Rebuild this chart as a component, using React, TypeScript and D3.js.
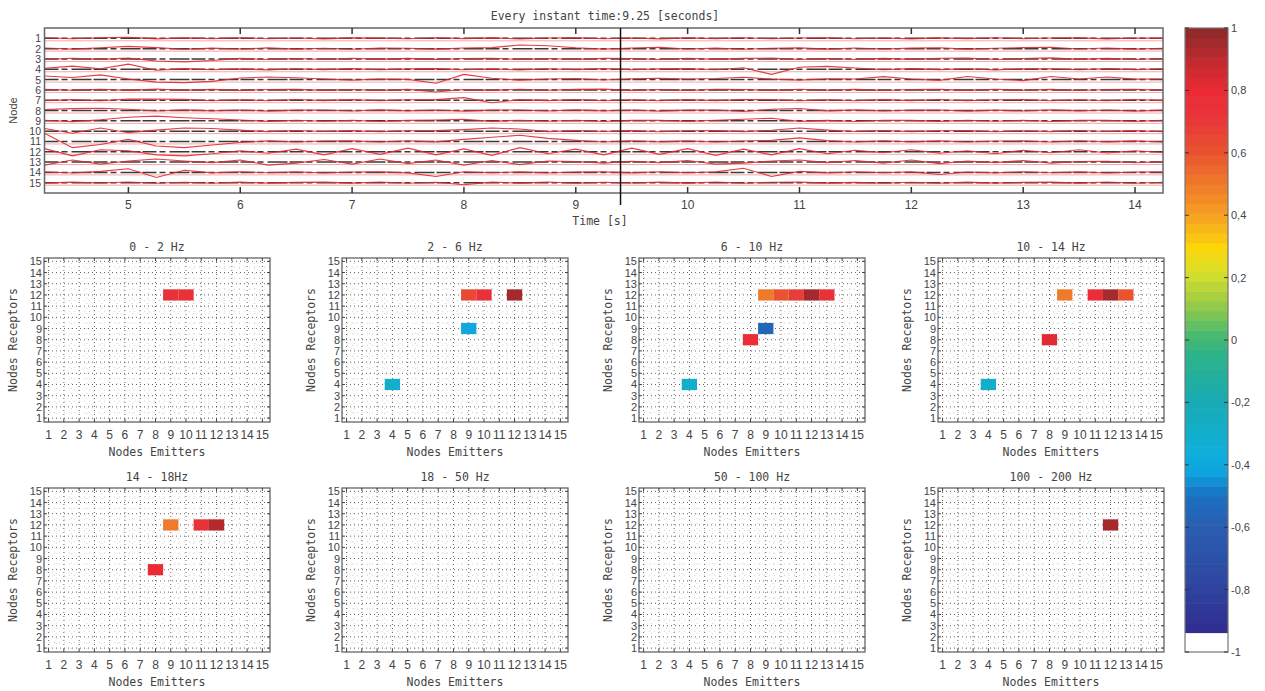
import React from "react";
import * as d3 from "d3";

// ---- data ----
const nodeIds = [1, 2, 3, 4, 5, 6, 7, 8, 9, 10, 11, 12, 13, 14, 15];
const timeTicks = [5, 6, 7, 8, 9, 10, 11, 12, 13, 14];
const cursorTime = 9.4;
const sampleTimes = [
  4.25, 4.5, 4.75, 5, 5.25, 5.5, 5.75, 6, 6.25, 6.5, 6.75, 7, 7.25, 7.5, 7.75, 8, 8.25, 8.5, 8.75, 9, 9.25,
  9.5, 9.75, 10, 10.25, 10.5, 10.75, 11, 11.25, 11.5, 11.75, 12, 12.25, 12.5, 12.75, 13, 13.25, 13.5, 13.75, 14, 14.25,
];

// offsets from each node's baseline, in node units (positive = up)
const trace1 = [0.05, -0.04, 0.06, 0.1, -0.05, 0.04, -0.03, 0.05, -0.04, 0.03, -0.05, 0.04, 0.02, -0.04, 0.05, -0.03, 0.04, -0.05, 0.03, 0.06, -0.04, 0.03, -0.05, 0.04, -0.03, 0.05, -0.04, 0.03, 0.05, -0.04, 0.03, -0.05, 0.04, -0.03, 0.05, -0.04, 0.03, 0.04, -0.05, 0.03, 0.02];
const trace2 = [0.06, -0.05, 0.08, 0.22, 0.1, -0.06, 0.05, -0.04, 0.07, -0.05, 0.04, -0.06, 0.05, 0.03, -0.05, 0.06, 0.1, 0.35, 0.28, 0.08, -0.05, 0.06, 0.12, -0.04, 0.05, -0.06, 0.04, 0.07, -0.05, 0.06, -0.04, 0.05, 0.08, -0.05, 0.04, 0.1, 0.14, -0.04, 0.06, -0.05, 0.04];
const trace3 = [-0.05, 0.06, -0.04, 0.08, -0.2, -0.28, -0.15, 0.05, -0.06, 0.04, -0.05, 0.06, -0.04, 0.05, -0.06, 0.04, 0.07, -0.05, 0.04, -0.06, 0.05, 0.04, -0.05, 0.06, -0.04, 0.05, 0.08, -0.05, 0.04, -0.06, 0.05, -0.04, 0.06, 0.09, -0.05, 0.04, 0.1, -0.04, 0.05, -0.06, 0.04];
const trace4 = [0.1, 0.3, 0.05, 0.5, -0.1, 0.06, -0.05, 0.04, -0.06, 0.05, -0.04, 0.06, -0.05, 0.04, 0.06, -0.05, 0.04, -0.06, 0.05, -0.04, 0.06, -0.05, 0.04, 0.06, -0.05, 0.15, -0.5, 0.2, 0.28, 0.12, -0.05, 0.06, -0.04, 0.05, -0.06, 0.04, 0.05, -0.05, 0.06, -0.04, 0.05];
const trace5 = [0.35, 0.2, 0.45, 0.05, -0.25, -0.3, -0.18, 0.15, 0.25, 0.18, 0.05, -0.05, 0.06, 0.02, -0.35, 0.5, 0.12, -0.05, 0.06, 0.1, -0.04, 0.08, 0.12, 0.05, 0.1, 0.22, 0.05, -0.05, 0.08, 0.06, 0.28, 0.05, -0.08, 0.3, 0.05, -0.1, 0.3, 0.05, 0.25, 0.04, 0.06];
const trace6 = [0.05, -0.04, 0.06, -0.05, 0.08, -0.04, 0.05, -0.06, 0.04, 0.05, -0.05, 0.04, -0.06, 0.05, -0.2, 0.04, -0.05, 0.06, -0.04, 0.05, 0.07, -0.05, 0.04, -0.06, 0.05, 0.04, -0.05, 0.06, -0.04, 0.05, -0.06, 0.04, 0.05, -0.05, 0.06, -0.04, 0.05, -0.06, 0.04, 0.05, -0.04];
const trace7 = [-0.04, 0.05, -0.06, 0.1, 0.12, 0.08, -0.05, 0.04, -0.05, 0.06, -0.04, 0.05, -0.06, 0.04, 0.05, 0.25, -0.25, 0.05, -0.04, 0.06, -0.05, 0.04, -0.06, 0.05, -0.04, 0.06, 0.05, -0.05, 0.04, -0.06, 0.05, -0.04, 0.06, -0.05, 0.04, 0.05, -0.06, 0.04, -0.05, 0.06, -0.04];
const trace8 = [0.1, 0.18, 0.22, 0.12, -0.05, 0.06, -0.04, 0.05, -0.06, 0.04, 0.05, -0.05, 0.06, -0.04, 0.05, -0.06, 0.04, 0.05, -0.05, 0.06, -0.04, 0.05, -0.06, 0.04, 0.05, -0.1, 0.12, 0.2, -0.04, 0.06, -0.05, 0.04, 0.05, -0.06, 0.04, -0.05, 0.06, -0.04, 0.05, -0.06, 0.04];
const trace9 = [0.05, -0.08, 0.1, 0.35, 0.45, 0.3, 0.2, 0.08, -0.05, 0.06, -0.04, 0.05, -0.06, 0.04, 0.08, 0.15, -0.05, 0.06, -0.04, 0.05, -0.06, 0.04, 0.05, -0.05, 0.06, 0.15, 0.25, -0.05, 0.04, -0.06, 0.05, 0.04, -0.05, 0.06, -0.04, 0.05, -0.06, 0.04, 0.05, -0.05, 0.06];
const trace10 = [0.25, -0.2, 0.3, -0.15, 0.1, 0.3, 0.25, 0.1, -0.05, 0.06, -0.04, 0.05, -0.06, 0.04, 0.05, 0.15, 0.3, 0.2, -0.05, 0.06, -0.04, 0.05, -0.06, 0.04, 0.05, -0.05, 0.08, 0.3, 0.1, -0.04, 0.06, -0.05, 0.04, 0.05, -0.06, 0.04, -0.05, 0.06, -0.04, 0.05, -0.06];
const trace11 = [0.8, -0.6, -0.3, 0.2, -0.45, -0.6, -0.35, -0.1, 0.05, -0.06, 0.04, 0.05, -0.05, 0.06, -0.04, 0.2, 0.4, 0.6, 0.3, 0.1, -0.05, 0.06, -0.04, 0.05, -0.06, 0.04, 0.1, 0.35, 0.08, -0.05, 0.06, -0.04, 0.05, -0.06, 0.04, 0.05, -0.05, 0.06, -0.04, 0.05, -0.06];
const trace12 = [0.3, -0.4, 0.2, 0.1, -0.3, -0.4, -0.2, 0.1, -0.15, 0.25, -0.3, 0.3, -0.25, 0.35, -0.3, 0.28, -0.35, 0.4, -0.2, 0.25, -0.3, 0.35, -0.25, 0.3, -0.35, 0.25, -0.3, 0.3, -0.2, 0.15, -0.1, 0.2, -0.15, 0.1, -0.2, 0.15, -0.1, 0.2, -0.12, 0.1, -0.08];
const trace13 = [-0.3, 0.2, -0.2, 0.1, 0.3, 0.1, -0.05, 0.2, -0.3, -0.1, 0.25, -0.2, 0.3, -0.15, 0.2, -0.3, 0.15, -0.25, 0.1, 0.05, -0.1, 0.08, -0.05, 0.15, -0.2, -0.1, 0.1, 0.2, -0.05, 0.15, -0.1, 0.2, -0.15, 0.1, -0.05, 0.15, -0.1, 0.05, 0.08, -0.06, 0.04];
const trace14 = [0.05, -0.06, 0.1, 0.35, -0.5, 0.2, -0.05, 0.06, -0.04, 0.05, -0.06, 0.04, 0.05, -0.05, -0.4, 0.06, -0.04, 0.05, -0.06, 0.04, 0.05, -0.05, 0.06, -0.04, 0.05, 0.4, -0.4, 0.1, -0.05, 0.06, -0.04, 0.05, -0.2, 0.04, -0.05, 0.06, -0.04, 0.05, -0.06, 0.04, 0.05];
const trace15 = [-0.04, 0.05, -0.03, 0.06, -0.05, 0.04, -0.06, 0.05, -0.04, 0.03, 0.05, -0.04, 0.06, -0.05, 0.04, -0.2, 0.05, -0.04, 0.06, -0.05, 0.04, -0.03, 0.05, -0.04, 0.06, -0.05, 0.04, 0.05, -0.04, 0.03, -0.05, 0.04, -0.06, 0.05, -0.04, 0.03, 0.05, -0.04, 0.06, -0.05, 0.04];
const traces = [trace1, trace2, trace3, trace4, trace5, trace6, trace7, trace8, trace9, trace10, trace11, trace12, trace13, trace14, trace15];

type Cell = { e: number; r: number; v: number };
const bandTitles = ["0 - 2 Hz", "2 - 6 Hz", "6 - 10 Hz", "10 - 14 Hz", "14 - 18Hz", "18 - 50 Hz", "50 - 100 Hz", "100 - 200 Hz"];
const cells0to2: Cell[] = [{ e: 9, r: 12, v: 0.75 }, { e: 10, r: 12, v: 0.75 }];
const cells2to6: Cell[] = [
  { e: 9, r: 12, v: 0.64 }, { e: 10, r: 12, v: 0.75 }, { e: 12, r: 12, v: 0.95 },
  { e: 9, r: 9, v: -0.4 }, { e: 4, r: 4, v: -0.3 },
];
const cells6to10: Cell[] = [
  { e: 9, r: 12, v: 0.5 }, { e: 10, r: 12, v: 0.6 }, { e: 11, r: 12, v: 0.68 }, { e: 12, r: 12, v: 0.95 }, { e: 13, r: 12, v: 0.75 },
  { e: 9, r: 9, v: -0.55 }, { e: 8, r: 8, v: 0.78 }, { e: 4, r: 4, v: -0.3 },
];
const cells10to14: Cell[] = [
  { e: 9, r: 12, v: 0.5 }, { e: 11, r: 12, v: 0.78 }, { e: 12, r: 12, v: 0.95 }, { e: 13, r: 12, v: 0.6 },
  { e: 8, r: 8, v: 0.82 }, { e: 4, r: 4, v: -0.3 },
];
const cells14to18: Cell[] = [
  { e: 9, r: 12, v: 0.5 }, { e: 11, r: 12, v: 0.75 }, { e: 12, r: 12, v: 0.92 }, { e: 8, r: 8, v: 0.8 },
];
const cells18to50: Cell[] = [];
const cells50to100: Cell[] = [];
const cells100to200: Cell[] = [{ e: 12, r: 12, v: 0.95 }];
const bandCells = [cells0to2, cells2to6, cells6to10, cells10to14, cells14to18, cells18to50, cells50to100, cells100to200];

const colorbarTicks = [1, 0.8, 0.6, 0.4, 0.2, 0, -0.2, -0.4, -0.6, -0.8, -1];

// ---- colour map ----
const stopValues = [-0.94, -0.75, -0.6, -0.5, -0.42, -0.35, -0.2, -0.05, 0.02, 0.12, 0.22, 0.3, 0.4, 0.5, 0.6, 0.7, 0.8, 0.88, 1];
const stopColors = ["#302c8f", "#2f4aa3", "#2a5db0", "#1a6fc0", "#0ea5e0", "#10b0d8", "#18aab5", "#2cb38a", "#4cba6e", "#9ccc45", "#d9e02a", "#fdd50a", "#f7a022", "#ef7a2a", "#e9532f", "#e8383a", "#ea2a35", "#c82a30", "#8a2a2a"];
const cmap = d3.scaleLinear<string>().domain(stopValues).range(stopColors).interpolate(d3.interpolateRgb).clamp(true);
const colorFor = (v: number) => (v < -0.94 ? "#ffffff" : cmap(v));

const TXT = "#444";
const MONO = "'DejaVu Sans Mono', monospace";
const SANS = "'Liberation Sans', Arial, sans-serif";

const TracePanel = () => {
  const x0 = 44.5, x1 = 1163, y0 = 28, y1 = 193;
  const x = d3.scaleLinear().domain([4.25, 14.25]).range([x0, x1]);
  const y = d3.scaleLinear().domain([0, 16]).range([y0, y1]);
  const unit = y(1) - y(0);
  return (
    <g>
      <text x={605} y={20} textAnchor="middle" fontFamily={MONO} fontSize={11.5} fill={TXT}>Every instant time:9.25 [seconds]</text>
      {nodeIds.map((n) => (
        <g key={n}>
          <line x1={x0} x2={x1} y1={y(n)} y2={y(n)} stroke="#3a3a3a" strokeWidth={1.5} strokeDasharray="14 3 6 4 20 2" />
          <line x1={x0} x2={x1} y1={y(n) + 2.5} y2={y(n) + 2.5} stroke="#f4a8a8" strokeWidth={1} />
        </g>
      ))}
      {traces.map((tr, k) => {
        const line = d3.line<number>()
          .x((_, i) => x(sampleTimes[i]))
          .y((v) => y(k + 1) - v * unit);
        return <path key={k} d={line(tr) || ""} fill="none" stroke="#e3262c" strokeWidth={1.1} strokeOpacity={0.9} />;
      })}
      <rect x={x0} y={y0} width={x1 - x0} height={y1 - y0} fill="none" stroke="#666" strokeWidth={1.5} />
      {timeTicks.map((t) => (
        <g key={t}>
          <line x1={x(t)} x2={x(t)} y1={y0} y2={y0 + 6} stroke="#333" strokeWidth={1.5} />
          <line x1={x(t)} x2={x(t)} y1={y1} y2={y1 - 6} stroke="#333" strokeWidth={1.5} />
          <text x={x(t)} y={209} textAnchor="middle" fontFamily={SANS} fontSize={12} fill={TXT}>{t}</text>
        </g>
      ))}
      <line x1={x(cursorTime)} x2={x(cursorTime)} y1={y0} y2={y1 + 12} stroke="#111" strokeWidth={1.5} />
      {nodeIds.map((n) => (
        <text key={n} x={41} y={y(n)} textAnchor="end" dominantBaseline="central" fontFamily={SANS} fontSize={10.5} fill={TXT}>{n}</text>
      ))}
      <text transform={`translate(13,${(y0 + y1) / 2}) rotate(-90)`} textAnchor="middle" dominantBaseline="central" fontFamily={SANS} fontSize={11} fill={TXT}>Node</text>
      <text x={600} y={225} textAnchor="middle" fontFamily={MONO} fontSize={11.5} fill={TXT}>Time [s]</text>
    </g>
  );
};

const HeatPanel = ({ left, top, title, cells }: { left: number; top: number; title: string; cells: Cell[] }) => {
  const w = 226, h = 164;
  const x = d3.scaleLinear().domain([0.7, 15.5]).range([left, left + w]);
  const y = d3.scaleLinear().domain([0.65, 15.3]).range([top + h, top]);
  const cw = x(1) - x(0);
  const ch = y(0) - y(1);
  const halves = nodeIds.slice(0, 14).map((n) => n + 0.5);
  return (
    <g>
      <text x={left + w / 2} y={top - 7} textAnchor="middle" fontFamily={MONO} fontSize={11.5} fill={TXT}>{title}</text>
      {halves.map((v) => (
        <g key={"h" + v}>
          <line x1={x(v)} x2={x(v)} y1={top} y2={top + h} stroke="#bbb" strokeWidth={0.7} strokeDasharray="1 4" />
          <line x1={left} x2={left + w} y1={y(v)} y2={y(v)} stroke="#bbb" strokeWidth={0.7} strokeDasharray="1 4" />
        </g>
      ))}
      {nodeIds.map((n) => (
        <g key={n}>
          <line x1={x(n)} x2={x(n)} y1={top} y2={top + h} stroke="#222" strokeWidth={0.7} strokeDasharray="1 3" />
          <line x1={left} x2={left + w} y1={y(n)} y2={y(n)} stroke="#222" strokeWidth={0.7} strokeDasharray="1 3" />
        </g>
      ))}
      {cells.map((c, i) => (
        <rect key={i} x={x(c.e) - cw / 2} y={y(c.r) - ch / 2} width={cw} height={ch} fill={colorFor(c.v)} />
      ))}
      <rect x={left} y={top} width={w} height={h} fill="none" stroke="#666" strokeWidth={1.3} />
      {nodeIds.map((n) => (
        <g key={"t" + n}>
          <line x1={x(n)} x2={x(n)} y1={top} y2={top + 3} stroke="#444" />
          <line x1={x(n)} x2={x(n)} y1={top + h} y2={top + h - 3} stroke="#444" />
          <line x1={left} x2={left + 3} y1={y(n)} y2={y(n)} stroke="#444" />
          <line x1={left + w} x2={left + w - 3} y1={y(n)} y2={y(n)} stroke="#444" />
          <text x={x(n)} y={top + h + 17} textAnchor="middle" fontFamily={SANS} fontSize={12} fill={TXT}>{n}</text>
          <text x={left - 2} y={y(n)} textAnchor="end" dominantBaseline="central" fontFamily={SANS} fontSize={11} fill={TXT}>{n}</text>
        </g>
      ))}
      <text x={left + w / 2} y={top + h + 34} textAnchor="middle" fontFamily={MONO} fontSize={11.5} fill={TXT}>Nodes Emitters</text>
      <text transform={`translate(${left - 31},${top + h / 2}) rotate(-90)`} textAnchor="middle" dominantBaseline="central" fontFamily={MONO} fontSize={11.5} fill={TXT}>Nodes Receptors</text>
    </g>
  );
};

const ColorBar = () => {
  const x0 = 1185, x1 = 1228;
  const y = d3.scaleLinear().domain([-1, 1]).range([652, 28]);
  const steps = 64;
  const bands = d3.range(steps).map((i) => -1 + (i * 2) / steps);
  const bh = (y(-1) - y(1)) / steps;
  return (
    <g>
      {bands.map((v) => (
        <rect key={v} x={x0} y={y(v) - bh} width={x1 - x0} height={bh + 0.6} fill={colorFor(v + 1 / steps)} />
      ))}
      <rect x={x0} y={y(1)} width={x1 - x0} height={y(-1) - y(1)} fill="none" stroke="#777" strokeWidth={1.2} />
      {colorbarTicks.map((t) => (
        <g key={t}>
          <line x1={x0} x2={x0 + 4} y1={y(t)} y2={y(t)} stroke="#333" />
          <line x1={x1} x2={x1 - 4} y1={y(t)} y2={y(t)} stroke="#333" />
          <text x={x1 + 3} y={y(t)} dominantBaseline="central" fontFamily={SANS} fontSize={11} fill={TXT}>
            {String(t).replace(".", ",")}
          </text>
        </g>
      ))}
    </g>
  );
};

const panelLefts = [44, 342, 639, 938];
const panelTops = [258, 488];

export default function App() {
  return (
    <svg width={1265} height={691} style={{ position: "absolute", left: 0, top: 0, background: "#fff" }}>
      <TracePanel />
      {bandTitles.map((t, i) => (
        <HeatPanel key={t} left={panelLefts[i % 4]} top={panelTops[Math.floor(i / 4)]} title={t} cells={bandCells[i]} />
      ))}
      <ColorBar />
    </svg>
  );
}
